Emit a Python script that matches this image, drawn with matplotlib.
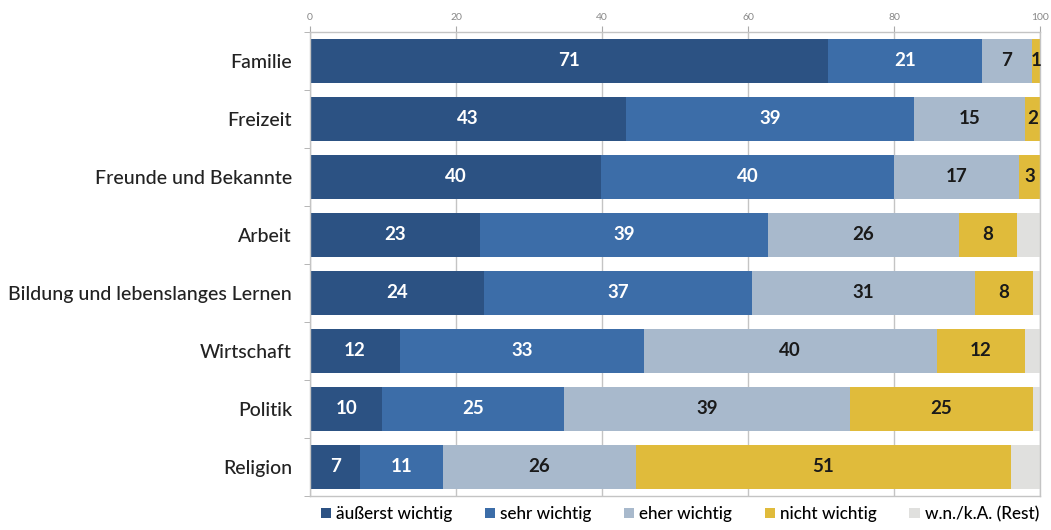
import matplotlib
matplotlib.use("Agg")
import matplotlib.pyplot as plt
import numpy as np

plt.rcParams['font.family'] = ['Lato', 'DejaVu Sans']

categories = ["Familie", "Freizeit", "Freunde und Bekannte", "Arbeit",
              "Bildung und lebenslanges Lernen", "Wirtschaft", "Politik", "Religion"]
series_names = ["äußerst wichtig", "sehr wichtig", "eher wichtig", "nicht wichtig", "w.n./k.A. (Rest)"]

aeusserst = [71.0, 43.3, 39.9, 23.3, 23.9, 12.3, 9.9, 6.9]
sehr = [21.0, 39.4, 40.1, 39.4, 36.6, 33.4, 24.9, 11.3]
eher = [6.9, 15.2, 17.1, 26.2, 30.6, 40.2, 39.2, 26.4]
nicht = [1.1, 2.1, 2.9, 8.0, 7.9, 12.0, 25.0, 51.4]
rest = [100 - a - s - e - n for a, s, e, n in zip(aeusserst, sehr, eher, nicht)]

xticks = [0, 20, 40, 60, 80, 100]

colors = ["#2c5283", "#3c6da8", "#a8b9cc", "#e0bb3b", "#e0e0de"]
text_colors = ["white", "white", "#1a1a1a", "#1a1a1a", None]

fig = plt.figure(figsize=(10.51, 5.30), dpi=100)
ax = fig.add_axes([310/1051, 1-496/530, 730/1051, 464/530])

series = [aeusserst, sehr, eher, nicht, rest]
y = np.arange(len(categories))
left = np.zeros(len(categories))
for vals, col, tc, name in zip(series, colors, text_colors, series_names):
    vals = np.array(vals, dtype=float)
    ax.barh(y, vals, left=left, height=0.76, color=col, label=name, zorder=2)
    if tc is not None:
        for yi, (l, v) in enumerate(zip(left, vals)):
            ax.text(l + v/2, yi, f"{v:.0f}", ha="center", va="center",
                    color=tc, fontsize=13.5, fontweight="bold", zorder=3)
    left += vals

ax.set_xlim(0, 100)
ax.set_ylim(len(categories) - 0.5, -0.5)
ax.set_yticks(y)
ax.set_yticklabels(categories, fontsize=14, color="#222222", fontweight="medium")
ax.set_yticks(np.arange(len(categories) + 1) - 0.5, minor=True)
ax.tick_params(axis="y", which="major", length=0, pad=13)
ax.tick_params(axis="y", which="minor", length=4, color="#aaaaaa")

ax.set_xticks(xticks)
ax.xaxis.tick_top()
ax.tick_params(axis="x", which="major", length=4, color="#aaaaaa",
               labelsize=7.5, labelcolor="#888888", pad=3)
ax.grid(axis="x", color="#c4c4c4", linewidth=1, zorder=0)
ax.set_axisbelow(True)
for s in ax.spines.values():
    s.set_color("#c4c4c4")
    s.set_linewidth(1)

fig.legend(loc="lower center", bbox_to_anchor=(0.647, -0.014), ncol=5, frameon=False,
           fontsize=12.3, handlelength=0.6, handleheight=0.6, handletextpad=0.3,
           columnspacing=1.9, prop={"size": 12.3, "weight": "medium"})

fig.savefig("out.png", dpi=100)
